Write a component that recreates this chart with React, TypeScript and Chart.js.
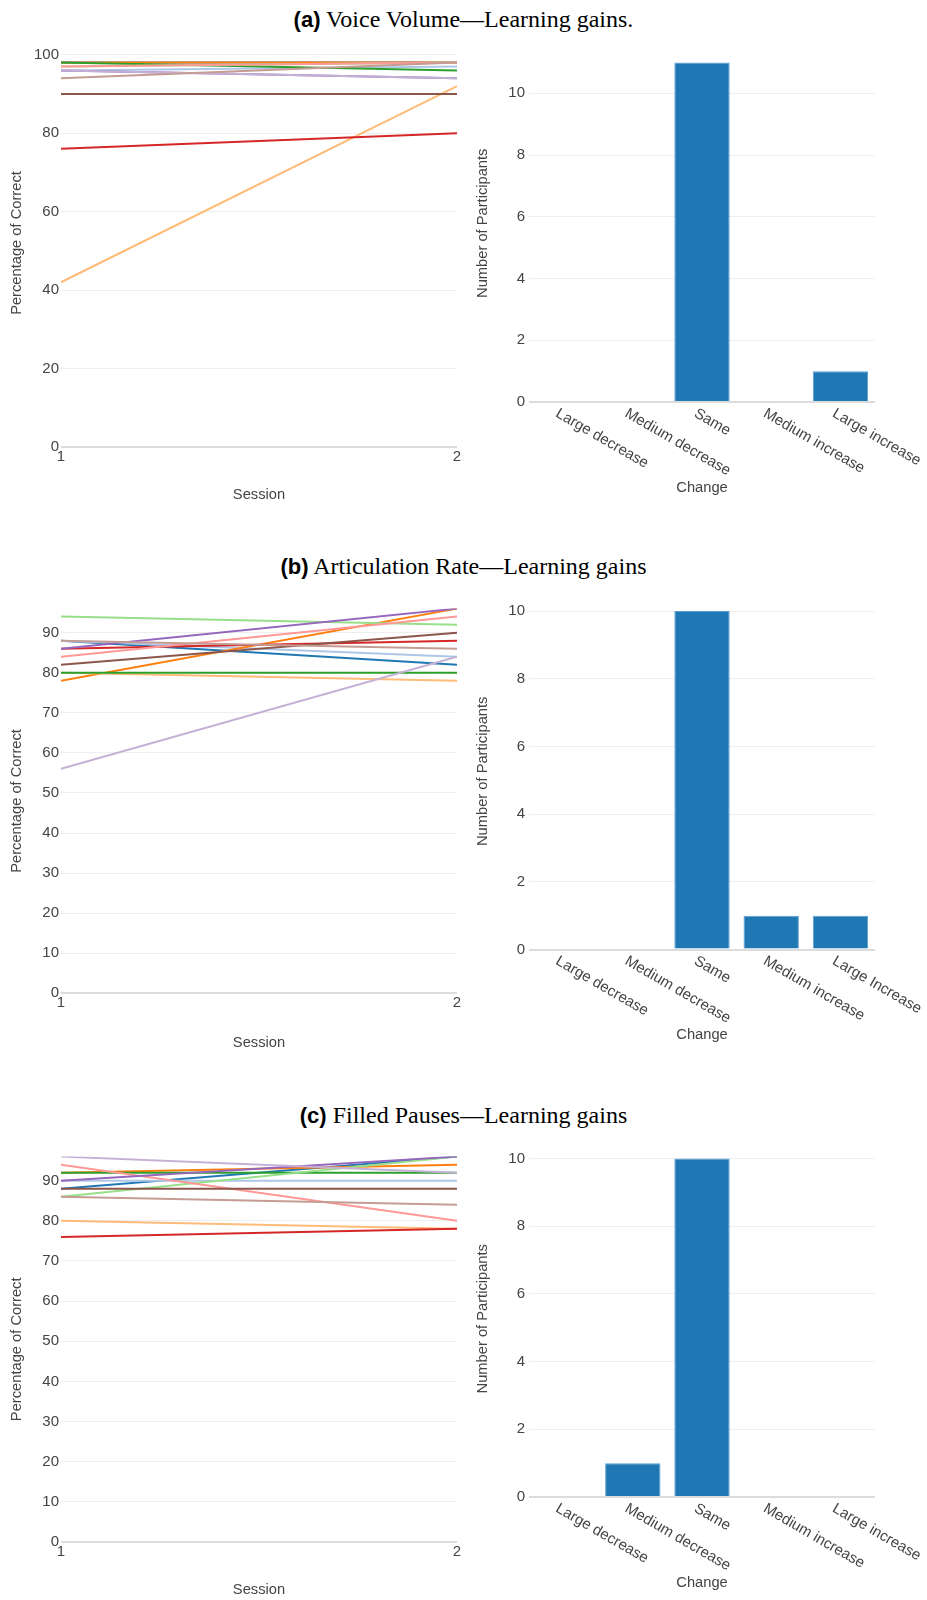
import React, { useEffect, useRef } from 'react';
import { Chart, registerables } from 'chart.js';

Chart.register(...registerables);

// ---------------- DATA ----------------
const sessions = [1, 2];
const participantColors = [
  '#1f77b4', '#aec7e8', '#ff7f0e', '#ffbb78', '#2ca02c', '#98df8a',
  '#d62728', '#ff9896', '#9467bd', '#c5b0d5', '#8c564b', '#c49c94',
];

// (a) Voice Volume
const volumeSession1 = [98, 96, 98, 42, 98, 97, 76, 97, 96, 96, 90, 94];
const volumeSession2 = [98, 97, 98, 92, 96, 98, 80, 98, 94, 94, 90, 98];
// (b) Articulation Rate
const rateSession1 = [88, 88, 78, 80, 80, 94, 86, 84, 86, 56, 82, 88];
const rateSession2 = [82, 84, 96, 78, 80, 92, 88, 94, 96, 84, 90, 86];
// (c) Filled Pauses
const pausesSession1 = [88, 90, 92, 80, 92, 86, 76, 94, 90, 96, 88, 86];
const pausesSession2 = [96, 90, 94, 78, 92, 96, 78, 80, 96, 92, 88, 84];

const changeLabelsA = ['Large decrease', 'Medium decrease', 'Same', 'Medium increase', 'Large increase'];
const changeLabelsB = ['Large decrease', 'Medium decrease', 'Same', 'Medium increase', 'Large Increase'];
const changeLabelsC = ['Large decrease', 'Medium decrease', 'Same', 'Medium increase', 'Large increase'];
const volumeChange = [0, 0, 11, 0, 1];
const rateChange = [0, 0, 10, 1, 1];
const pausesChange = [0, 1, 10, 0, 0];

// ---------------- STYLE ----------------
const SANS = '"Liberation Sans", Arial, Helvetica, sans-serif';
const SERIF = '"Liberation Serif", "Times New Roman", serif';
const TICK_SIZE = 15;
const TITLE_SIZE = 14.7;
const TITLE_LH = 1.2;
const TEXT = '#444444';

type Geo = {
  left: number; top: number; width: number; height: number;
  pl: number; pr: number; pt: number; pb: number;
  xTitleY: number; yTitleX: number;
};

function gridColor(ctx: any) {
  return ctx.tick && ctx.tick.value === 0 ? '#dcdcdc' : '#eeeeee';
}
function gridWidth(ctx: any) {
  return ctx.tick && ctx.tick.value === 0 ? 2 : 1;
}

function yScale(geo: Geo, yMax: number, step: number, title: string, tickPad: number) {
  const half = (TITLE_SIZE * TITLE_LH) / 2;
  return {
    min: 0,
    max: yMax,
    afterBuildTicks: (s: any) => {
      const t: any[] = [];
      for (let v = 0; v <= yMax + 1e-9; v += step) t.push({ value: v });
      s.ticks = t;
    },
    afterFit: (s: any) => { s.width = geo.pl - geo.left; },
    ticks: { stepSize: step, color: TEXT, font: { family: SANS, size: TICK_SIZE }, padding: tickPad },
    grid: { drawTicks: false, color: gridColor, lineWidth: gridWidth },
    border: { display: false },
    title: {
      display: true, text: title, color: TEXT,
      font: { family: SANS, size: TITLE_SIZE, lineHeight: TITLE_LH },
      padding: { top: geo.yTitleX - geo.left - half, bottom: 0 },
    },
  };
}

function xTitle(geo: Geo, text: string) {
  const half = (TITLE_SIZE * TITLE_LH) / 2;
  return {
    display: true, text, color: TEXT,
    font: { family: SANS, size: TITLE_SIZE, lineHeight: TITLE_LH },
    padding: { top: 0, bottom: geo.top + geo.height - geo.xTitleY - half },
  };
}

function layoutFor(geo: Geo) {
  return {
    padding: {
      left: 0,
      top: geo.pt - geo.top,
      right: geo.left + geo.width - geo.pr,
      bottom: 0,
    },
  };
}

function lineConfig(s1: number[], s2: number[], geo: Geo, yMax: number, step: number): any {
  const datasets = participantColors.map((c, i) => ({
    label: 'P' + (i + 1),
    data: sessions.map((x, j) => ({ x, y: j === 0 ? s1[i] : s2[i] })),
    borderColor: c,
    backgroundColor: c,
    borderWidth: 2,
    pointRadius: 0,
    pointHoverRadius: 0,
    tension: 0,
    order: -i,
  }));
  return {
    type: 'line',
    data: { datasets },
    options: {
      responsive: false,
      animation: false,
      layout: layoutFor(geo),
      plugins: { legend: { display: false }, tooltip: { enabled: false }, title: { display: false } },
      scales: {
        x: {
          type: 'linear', min: 1, max: 2,
          afterFit: (s: any) => { s.height = geo.top + geo.height - geo.pb; },
          ticks: { stepSize: 1, autoSkip: false, maxRotation: 0, color: TEXT, font: { family: SANS, size: TICK_SIZE }, padding: 1 },
          grid: { display: false, drawTicks: false },
          border: { display: false },
          title: xTitle(geo, 'Session'),
        },
        y: yScale(geo, yMax, step, 'Percentage of Correct', 2),
      },
    },
  };
}

const rotatedLabels = {
  id: 'rotatedLabels',
  afterDraw(chart: any) {
    const xs = chart.scales.x;
    const labels: string[] = chart.data.labels;
    const ctx = chart.ctx;
    ctx.save();
    ctx.font = `${TICK_SIZE}px ${SANS}`;
    ctx.fillStyle = TEXT;
    ctx.textAlign = 'left';
    ctx.textBaseline = 'top';
    labels.forEach((lab, i) => {
      const px = xs.getPixelForTick(i);
      ctx.save();
      ctx.translate(px - 3, xs.top + 4);
      ctx.rotate(Math.PI / 6);
      ctx.fillText(lab, 0, 0);
      ctx.restore();
    });
    ctx.restore();
  },
};

function barConfig(labels: string[], values: number[], geo: Geo, yMax: number): any {
  return {
    type: 'bar',
    data: {
      labels,
      datasets: [{
        label: 'Participants',
        data: values,
        backgroundColor: '#1f77b4',
        borderColor: '#5b9fd3',
        borderWidth: 1,
        barPercentage: 0.8,
        categoryPercentage: 1.0,
      }],
    },
    plugins: [rotatedLabels],
    options: {
      responsive: false,
      animation: false,
      layout: layoutFor(geo),
      plugins: { legend: { display: false }, tooltip: { enabled: false }, title: { display: false } },
      scales: {
        x: {
          type: 'category',
          offset: true,
          afterFit: (s: any) => { s.height = geo.top + geo.height - geo.pb; },
          ticks: { display: false },
          grid: { display: false, drawTicks: false },
          border: { display: false },
          title: xTitle(geo, 'Change'),
        },
        y: yScale(geo, yMax, 2, 'Number of Participants', 4),
      },
    },
  };
}

function ChartCanvas({ geo, config }: { geo: Geo; config: any }) {
  const ref = useRef<HTMLCanvasElement | null>(null);
  useEffect(() => {
    if (!ref.current) return;
    const chart = new Chart(ref.current, config);
    return () => chart.destroy();
  }, []);
  return (
    <canvas
      ref={ref}
      width={geo.width}
      height={geo.height}
      style={{ position: 'absolute', left: geo.left, top: geo.top, width: geo.width, height: geo.height }}
    />
  );
}

function Heading({ y, tag, text }: { y: number; tag: string; text: string }) {
  return (
    <div
      style={{
        position: 'absolute', left: 0, top: y - 16, width: 927, height: 32, lineHeight: '32px',
        textAlign: 'center', color: '#000', whiteSpace: 'nowrap',
      }}
    >
      <span style={{ fontFamily: SANS, fontWeight: 'bold', fontSize: 22 }}>{tag}</span>
      <span style={{ fontFamily: SERIF, fontSize: 24 }}> {text}</span>
    </div>
  );
}

const leftA: Geo = { left: 0, top: 28, width: 475, height: 482, pl: 61, pr: 457, pt: 37.2, pb: 447, xTitleY: 495, yTitleX: 17 };
const rightA: Geo = { left: 465, top: 30, width: 462, height: 470, pl: 529, pr: 875, pt: 44.5, pb: 402, xTitleY: 487.5, yTitleX: 483 };
const leftB: Geo = { left: 0, top: 590, width: 475, height: 470, pl: 61, pr: 457, pt: 608.6, pb: 993.3, xTitleY: 1043, yTitleX: 17 };
const rightB: Geo = { left: 465, top: 578, width: 462, height: 472, pl: 529, pr: 875, pt: 593.1, pb: 949.5, xTitleY: 1035, yTitleX: 483 };
const leftC: Geo = { left: 0, top: 1138, width: 475, height: 462, pl: 61, pr: 457, pt: 1156.6, pb: 1542, xTitleY: 1590, yTitleX: 17 };
const rightC: Geo = { left: 465, top: 1125, width: 462, height: 475, pl: 529, pr: 875, pt: 1140.5, pb: 1497, xTitleY: 1583, yTitleX: 483 };

export default function App() {
  return (
    <div style={{ position: 'absolute', left: 0, top: 0, width: 927, height: 1600, background: '#fff', overflow: 'hidden' }}>
      <Heading y={18.5} tag="(a)" text="Voice Volume—Learning gains." />
      <ChartCanvas geo={leftA} config={lineConfig(volumeSession1, volumeSession2, leftA, 104, 20)} />
      <ChartCanvas geo={rightA} config={barConfig(changeLabelsA, volumeChange, rightA, 11.58)} />

      <Heading y={565.5} tag="(b)" text="Articulation Rate—Learning gains" />
      <ChartCanvas geo={leftB} config={lineConfig(rateSession1, rateSession2, leftB, 96, 10)} />
      <ChartCanvas geo={rightB} config={barConfig(changeLabelsB, rateChange, rightB, 10.53)} />

      <Heading y={1115} tag="(c)" text="Filled Pauses—Learning gains" />
      <ChartCanvas geo={leftC} config={lineConfig(pausesSession1, pausesSession2, leftC, 96, 10)} />
      <ChartCanvas geo={rightC} config={barConfig(changeLabelsC, pausesChange, rightC, 10.53)} />
    </div>
  );
}
